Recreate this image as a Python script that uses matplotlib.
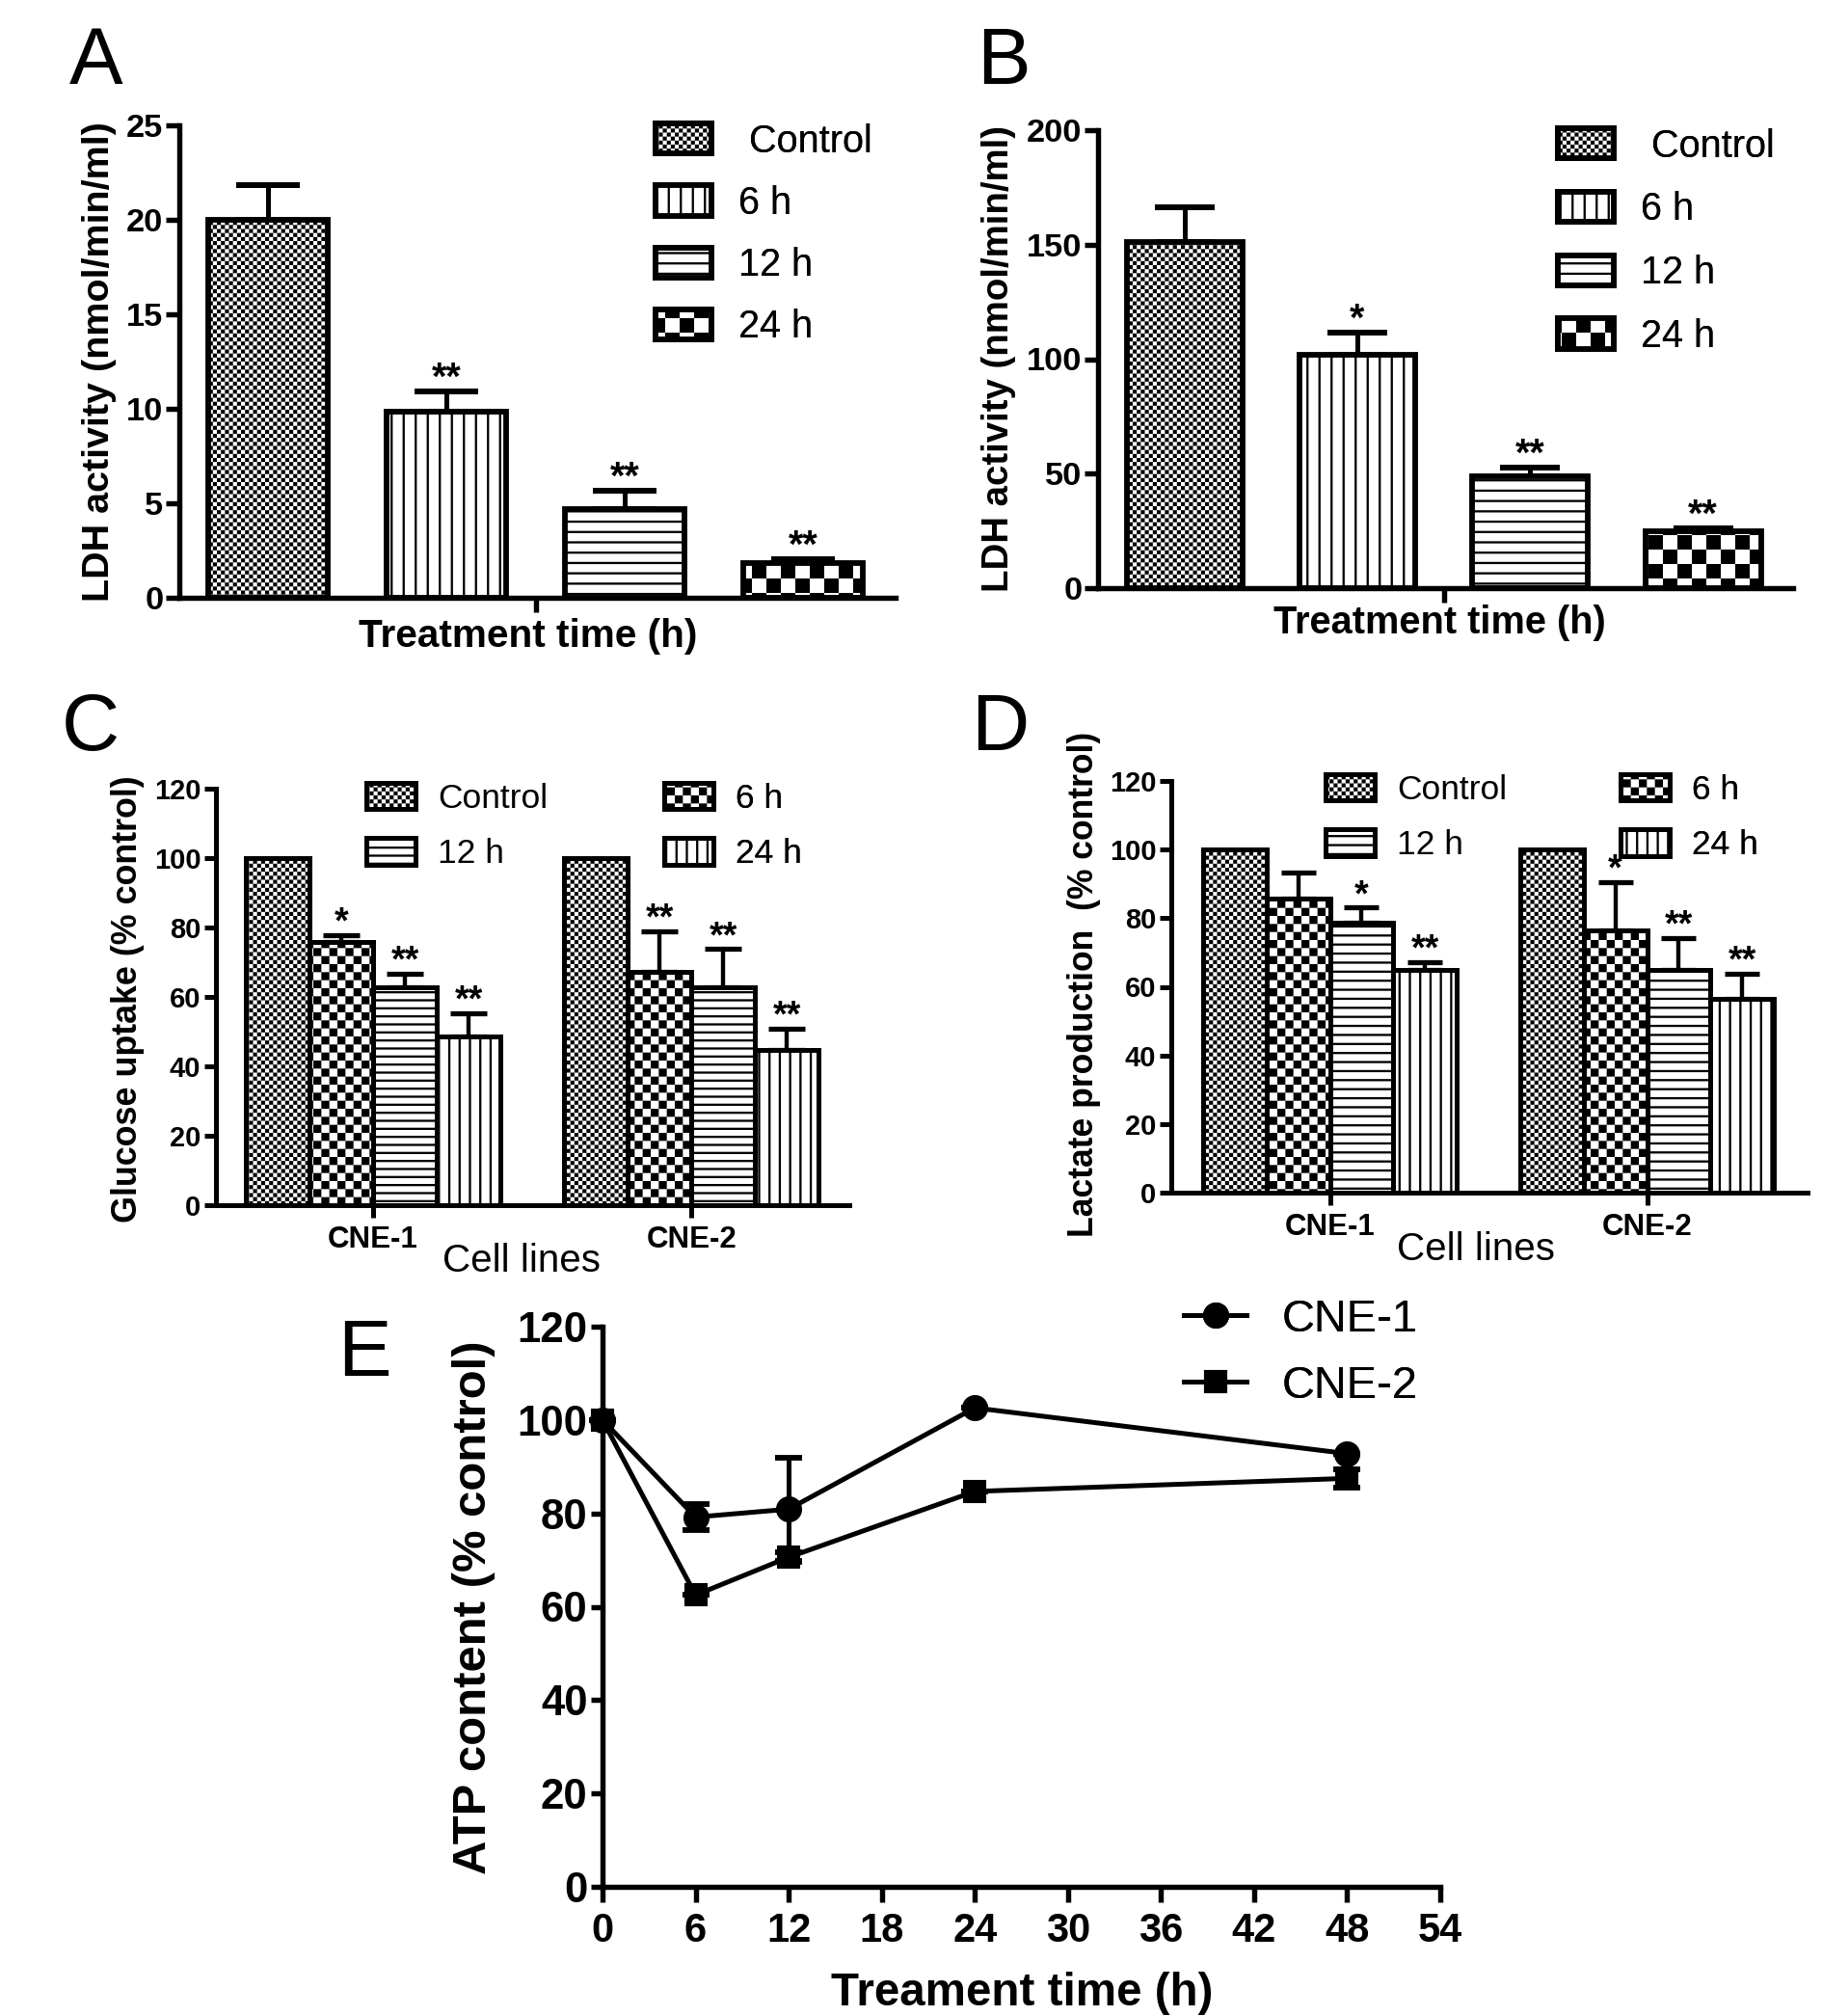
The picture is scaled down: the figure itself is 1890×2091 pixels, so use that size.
#!/usr/bin/env python3
import numpy as np
import matplotlib
matplotlib.use("Agg")
import matplotlib.pyplot as plt
from matplotlib import hatch as mhatch
from matplotlib.path import Path

DPI = 150
W, H = 1890, 2091
HATCH_LW = 1.1  # points

plt.rcParams["font.family"] = ["Liberation Sans", "DejaVu Sans"]
plt.rcParams["hatch.linewidth"] = HATCH_LW
plt.rcParams["hatch.color"] = "black"

# ---- data ----
treat_groups = ["Control", "6 h", "12 h", "24 h"]

ldh_a_mean = [20.0, 9.85, 4.7, 1.85]
ldh_a_err = [1.85, 1.05, 0.95, 0.2]
ldh_a_sig = ["", "**", "**", "**"]

ldh_b_mean = [151.0, 102.0, 49.0, 25.0]
ldh_b_err = [15.5, 9.5, 3.5, 1.2]
ldh_b_sig = ["", "*", "**", "**"]

cell_lines = ["CNE-1", "CNE-2"]

glucose_cne1 = [100, 75.8, 62.8, 48.5]
glucose_cne1_err = [0, 2.1, 4.0, 6.8]
glucose_cne1_sig = ["", "*", "**", "**"]
glucose_cne2 = [100, 67.2, 62.8, 44.8]
glucose_cne2_err = [0, 11.7, 11.0, 6.1]
glucose_cne2_sig = ["", "**", "**", "**"]

lactate_cne1 = [100, 85.7, 78.7, 65.0]
lactate_cne1_err = [0, 7.7, 4.4, 2.2]
lactate_cne1_sig = ["", "", "*", "**"]
lactate_cne2 = [100, 76.4, 65.0, 56.4]
lactate_cne2_err = [0, 14.1, 9.3, 7.4]
lactate_cne2_sig = ["", "*", "**", "**"]

atp_hours = [0, 6, 12, 24, 48]
atp_cne1 = [100, 79.2, 80.9, 102.6, 92.8]
atp_cne1_err = [0, 2.7, 11.0, 0, 0]
atp_cne2 = [100, 62.5, 70.6, 84.7, 87.5]
atp_cne2_err = [0, 0, 1.0, 0, 2.0]


# ---- GraphPad-like hatches: line hatches with finer steps and checkerboards ----
class _LineHatch(mhatch.HatchPatternBase):
    char = "-"

    def __init__(self, hatch, density):
        self.num_lines = 2 * hatch.count(self.char)
        self.num_vertices = 2 * self.num_lines

    def set_vertices_and_codes(self, vertices, codes):
        pos = (np.arange(self.num_lines) + 0.5) / self.num_lines
        lo, hi = np.zeros_like(pos), np.ones_like(pos)
        if self.char == "-":
            vertices[0::2] = np.column_stack([lo, pos])
            vertices[1::2] = np.column_stack([hi, pos])
        else:
            vertices[0::2] = np.column_stack([pos, lo])
            vertices[1::2] = np.column_stack([pos, hi])
        codes[0::2] = Path.MOVETO
        codes[1::2] = Path.LINETO


class HLines(_LineHatch):
    char = "-"


class VLines(_LineHatch):
    char = "|"


class Checker(mhatch.HatchPatternBase):
    # 'o' -> one square pair per inch, '.' -> three pairs per inch
    def __init__(self, hatch, density):
        self.pairs = hatch.count("o") + 3 * hatch.count(".")
        self.num_vertices = 10 * self.pairs ** 2

    def set_vertices_and_codes(self, vertices, codes):
        s = 0.5 / self.pairs
        d = HATCH_LW / 144.0  # half the stroke, the renderer strokes the squares too
        sq = np.array([[d, d], [s - d, d], [s - d, s - d], [d, s - d], [d, d]])
        corners = [(2 * i * s + k * s, 2 * j * s + k * s)
                   for i in range(self.pairs) for j in range(self.pairs) for k in (0, 1)]
        vertices[:] = np.concatenate([sq + np.array(c) for c in corners])
        codes[:] = np.tile([Path.MOVETO, Path.LINETO, Path.LINETO, Path.LINETO,
                            Path.CLOSEPOLY], len(corners))


mhatch._hatch_types = [HLines, VLines, Checker]

FINE = "." * 6

fig = plt.figure(figsize=(W / DPI, H / DPI), dpi=DPI)
renderer = fig.canvas.get_renderer()


def px_rect(l, t, r, b):
    return [l / W, 1 - b / H, (r - l) / W, (b - t) / H]


def fig_text(x, y, s, **kw):
    return fig.text(x / W, 1 - y / H, s, **kw)


def fit(txt, target, vertical=False):
    bb = txt.get_window_extent(renderer)
    size = bb.height if vertical else bb.width
    txt.set_fontsize(txt.get_fontsize() * target / size)


def style_axes(ax, tick_pt, lw=2.6, ylen=6.5, xlen=7.0):
    for side in ("top", "right"):
        ax.spines[side].set_visible(False)
    for side in ("left", "bottom"):
        ax.spines[side].set_linewidth(lw)
        ax.spines[side].set_capstyle("projecting")
    ax.tick_params(axis="y", direction="out", length=ylen, width=lw, labelsize=tick_pt, pad=1.5)
    ax.tick_params(axis="x", direction="out", length=xlen, width=lw, labelsize=tick_pt)
    ax.set_facecolor("none")


def bold_ticks(ax):
    for t in ax.get_xticklabels() + ax.get_yticklabels():
        t.set_fontweight("bold")


def upper_errors(ax, x, mean, err, sig, cap, elw, star_pt):
    x = np.asarray(x, float)
    mean = np.asarray(mean, float)
    err = np.asarray(err, float)
    keep = err > 0
    ax.errorbar(x[keep], mean[keep], yerr=[np.zeros(keep.sum()), err[keep]], fmt="none",
                ecolor="black", elinewidth=elw, capsize=cap, capthick=elw * 1.2, zorder=1)
    for xi, top, s in zip(x, mean + err, sig):
        if s:
            ax.annotate(s, (xi, top), xytext=(0, 1), textcoords="offset points",
                        ha="center", va="baseline", fontsize=star_pt, fontweight="bold")


def legend_at(ax, handles, labels, x_px, y_px, size, hl, hh, spacing, pad, **kw):
    # y_px is the centre of the first legend row
    fs_px = size * DPI / 72
    leg = ax.legend(handles, labels, loc="upper left",
                    bbox_to_anchor=(x_px / W, 1 - (y_px - 0.49 * fs_px) / H),
                    bbox_transform=fig.transFigure, frameon=False, borderpad=0,
                    borderaxespad=0, fontsize=size, handlelength=hl, handleheight=hh,
                    labelspacing=spacing, handletextpad=pad, **kw)
    ax.add_artist(leg)
    return leg


# ---- panels A and B: LDH activity ----
def ldh_panel(rect, means, errs, sigs, hatches, ymax, ystep, cap, leg_xy, leg_gap):
    ax = fig.add_axes(px_rect(*rect))
    x = np.arange(len(means))
    handles = []
    for i in range(len(means)):
        handles.append(ax.bar(x[i], means[i], width=0.67, color="white", edgecolor="black",
                              linewidth=2.8, hatch=hatches[i], zorder=2))
    upper_errors(ax, x, means, errs, sigs, cap, 2.4, 19)
    ax.set_xlim(-0.5, 3.52)
    ax.set_ylim(0, ymax)
    ax.set_yticks(np.arange(0, ymax + 1, ystep))
    ax.set_xticks([1.5])
    ax.set_xticklabels([""])
    style_axes(ax, 16.5)
    bold_ticks(ax)
    labels = [" " + treat_groups[0]] + treat_groups[1:]
    legend_at(ax, handles, labels, leg_xy[0], leg_xy[1], 19, 1.46, 0.83, leg_gap, 0.7)
    return ax


ldh_panel((186, 130, 929, 620), ldh_a_mean, ldh_a_err, ldh_a_sig,
          [FINE, "|" * 6, "-" * 7, "ooooo"], 25, 5, 16, (680, 147), 0.66)
ldh_panel((1139, 135, 1860, 610), ldh_b_mean, ldh_b_err, ldh_b_sig,
          [FINE, "|" * 6, "-" * 7, "ooooo"], 200, 50, 15, (1616, 152), 0.70)


# ---- panels C and D: grouped by cell line ----
def grouped_panel(rect, cne1, cne1_err, cne1_sig, cne2, cne2_err, cne2_sig,
                  hatches, xlim, cap, leg_x1, leg_x2, leg_y):
    ax = fig.add_axes(px_rect(*rect))
    centers = np.array([2.0, 7.0])
    offsets = np.array([-1.5, -0.5, 0.5, 1.5])
    handles = []
    for i in range(4):
        handles.append(ax.bar(centers + offsets[i], [cne1[i], cne2[i]], width=1.0,
                              color="white", edgecolor="black", linewidth=2.4,
                              hatch=hatches[i], zorder=2))
    upper_errors(ax, centers[0] + offsets, cne1, cne1_err, cne1_sig, cap, 2.1, 18)
    upper_errors(ax, centers[1] + offsets, cne2, cne2_err, cne2_sig, cap, 2.1, 18)
    ax.set_xlim(*xlim)
    ax.set_ylim(0, 120)
    ax.set_yticks(np.arange(0, 121, 20))
    ax.set_xticks(centers)
    ax.set_xticklabels(cell_lines)
    style_axes(ax, 14, lw=2.4, ylen=6, xlen=6)
    ax.tick_params(axis="x", labelsize=15, pad=4)
    bold_ticks(ax)
    # Control/12 h in the first column, 6 h/24 h in the second
    legend_at(ax, [handles[0], handles[2]], [treat_groups[0], treat_groups[2]],
              leg_x1, leg_y, 17, 1.44, 0.82, 0.69, 0.66)
    legend_at(ax, [handles[1], handles[3]], [treat_groups[1], treat_groups[3]],
              leg_x2, leg_y, 17, 1.44, 0.82, 0.69, 0.66)
    return ax


grouped_panel((224, 818, 881, 1250), glucose_cne1, glucose_cne1_err, glucose_cne1_sig,
              glucose_cne2, glucose_cne2_err, glucose_cne2_sig,
              [FINE, "o" * 9, "-" * 9, "|" * 7], (-0.47, 9.48), 9, 380, 689, 829)
grouped_panel((1215, 810, 1875, 1237), lactate_cne1, lactate_cne1_err, lactate_cne1_sig,
              lactate_cne2, lactate_cne2_err, lactate_cne2_sig,
              [FINE, "o" * 9, "-" * 8, "|" * 7], (-0.5, 9.53), 8.5, 1375, 1681, 820)


# ---- panel E: ATP content over time ----
axe = fig.add_axes(px_rect(625, 1376, 1494, 1957))
eb1 = axe.errorbar(atp_hours, atp_cne1, yerr=atp_cne1_err, color="black", marker="o",
                   ms=12, lw=2.4, elinewidth=2.4, capsize=6.5, capthick=2.8,
                   clip_on=False, zorder=3)
eb2 = axe.errorbar(atp_hours, atp_cne2, yerr=atp_cne2_err, color="black", marker="s",
                   ms=11, lw=2.4, elinewidth=2.4, capsize=6.5, capthick=2.8,
                   clip_on=False, zorder=3)
axe.set_xlim(0, 54)
axe.set_ylim(0, 120)
axe.set_xticks(np.arange(0, 55, 6))
axe.set_yticks(np.arange(0, 121, 20))
style_axes(axe, 20, lw=2.6, ylen=6, xlen=7.5)
axe.tick_params(axis="y", labelsize=21)
axe.tick_params(axis="x", pad=5)
bold_ticks(axe)
legend_at(axe, [eb1.lines[0], eb2.lines[0]], cell_lines, 1228, 1370, 22.5, 1.39, 0.8, 0.53, 0.77,
          numpoints=1)


# ---- axis titles and panel letters ----
ylabels = [
    ("LDH activity (nmol/min/ml)", 103, 375, 498),
    ("LDH activity (nmol/min/ml)", 1036, 372, 485),
    ("Glucose uptake (% control)", 132, 1036, 465),
    ("Lactate production  (% control)", 1124, 1021, 525),
    ("ATP content (% control)", 492, 1667, 554),
]
for s, x, y, length in ylabels:
    t = fig_text(x, y, s, rotation=90, ha="center", va="center", fontsize=20, fontweight="bold")
    fit(t, length, vertical=True)

xlabels = [
    ("Treatment time (h)", 548, 660, 352, "bold"),
    ("Treatment time (h)", 1493, 646, 345, "bold"),
    ("Cell lines", 541, 1308, 163, "normal"),
    ("Cell lines", 1531, 1296, 163, "normal"),
    ("Treament time (h)", 1060, 2068, 397, "bold"),
]
for s, x, y, length, weight in xlabels:
    t = fig_text(x, y, s, ha="center", va="center", fontsize=20, fontweight=weight)
    fit(t, length)

for letter, x, y in [("A", 72, 87), ("B", 1013, 87), ("C", 64, 778), ("D", 1007, 778), ("E", 350, 1427)]:
    fig_text(x, y, letter, ha="left", va="baseline", fontsize=40)

fig.savefig("out.png", dpi=DPI)
